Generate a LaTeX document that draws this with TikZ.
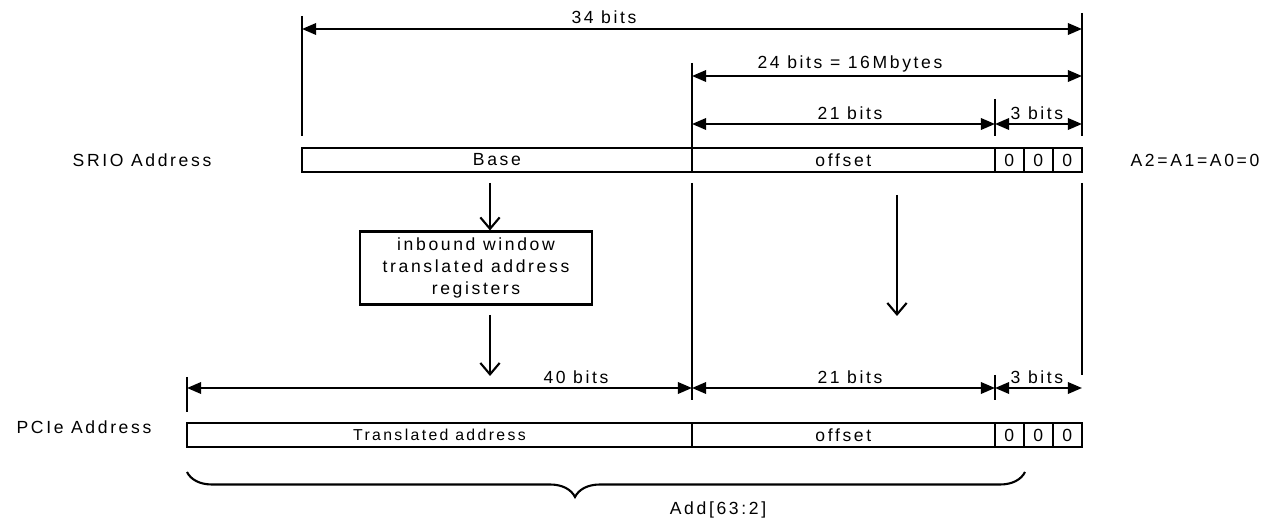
\documentclass[tikz,border=0pt]{standalone}
\usepackage{fontspec}
\setmainfont{Liberation Sans}[LetterSpace=15]
\usepackage{tikz}
\usetikzlibrary{arrows.meta, positioning, decorations.pathreplacing}

\tikzset{
    cell/.style={draw, line width=1.2pt, inner sep=0pt, outer sep=0pt,
        minimum height=0.48cm, anchor=north west},
    zero/.style={cell, minimum width=0.58cm},
    dim/.style={{Triangle[length=8pt,width=6.5pt]}-{Triangle[length=8pt,width=6.5pt]}, line width=1.2pt},
    flow/.style={-{Straight Barb[length=6.5pt,width=11pt]}, line width=1.2pt},
    tick/.style={line width=1.2pt}
}

\begin{document}
\begin{tikzpicture}[
    x=0.02cm, y=-0.02cm,
    font=\fontsize{10}{12.5}\selectfont
]
\useasboundingbox (0,0) rectangle (1279,523);

% =========================================================
% TOP: SRIO address
% =========================================================
\node (srio) at (142,160) {SRIO Address};
\node (abits) at (1195,160) {A2=A1=A0=0};

\node[cell, minimum width=7.8cm] (base) at (302,148) {Base};
\node[cell, minimum width=6.06cm, right=0pt of base] (offs) {offset};
\node[zero, right=0pt of offs] (sz0) {0};
\node[zero, right=0pt of sz0] (sz1) {0};
\node[zero, right=0pt of sz1] (sz2) {0};

% extension lines
\draw[tick] (302,16) -- (302,136);
\draw[tick] (1082,13) -- (1082,136);
\draw[tick] (692,63) -- (692,148);
\draw[tick] (995,99) -- (995,136);

% dimensions
\draw[dim] (302,29) -- (1082,29);
\node (l34) at (604,17) {34 bits};
\draw[dim] (692,76) -- (1082,76);
\node (l24) at (850,64) {24 bits = 16Mbytes};
\draw[dim] (692,124) -- (995,124);
\node (l21) at (850,113) {21 bits};
\draw[dim] (995,124) -- (1082,124);
\node (l3) at (1037,113) {3 bits};

% =========================================================
% MIDDLE: translation
% =========================================================
\node[draw, line width=1.2pt, minimum width=4.64cm, minimum height=1.46cm,
    inner sep=0pt, align=center] (inb) at (476,268)
    {inbound window\\translated address\\registers};

\coordinate (b1) at (490,183);
\coordinate (b2) at (490,315);
\coordinate (b3) at (490,376);
\draw[flow] (b1) -- (b1 |- inb.north);
\draw[flow] (b2) -- (b3);

\coordinate (o1) at (897,195);
\coordinate (o2) at (897,316);
\draw[flow] (o1) -- (o2);

% long extension lines
\draw[tick] (692,183) -- (692,400);
\draw[tick] (1082,183) -- (1082,375);

% =========================================================
% BOTTOM: PCIe address
% =========================================================
\node (pcie) at (84,427) {PCIe Address};

\node[cell, minimum width=10.1cm, font=\fontsize{9}{11}\selectfont] (trans) at (187,423) {Translated address};
\node[cell, minimum width=6.06cm, right=0pt of trans] (offs2) {offset};
\node[zero, right=0pt of offs2] (pz0) {0};
\node[zero, right=0pt of pz0] (pz1) {0};
\node[zero, right=0pt of pz1] (pz2) {0};

\draw[tick] (187,377) -- (187,412);
\draw[tick] (995,375) -- (995,400);

\draw[dim] (187,388) -- (692,388);
\node (l40) at (576,377) {40 bits};
\draw[dim] (692,388) -- (995,388);
\node (l21b) at (850,377) {21 bits};
\draw[dim] (995,388) -- (1082,388);
\node (l3b) at (1037,377) {3 bits};

% brace
\draw[line width=1.2pt, decorate,
    decoration={brace, mirror, amplitude=0.5cm, aspect=0.463}]
    (187,472) -- (1025,472);
\node (add) at (718,510) {Add[63:2]};

\end{tikzpicture}
\end{document}
